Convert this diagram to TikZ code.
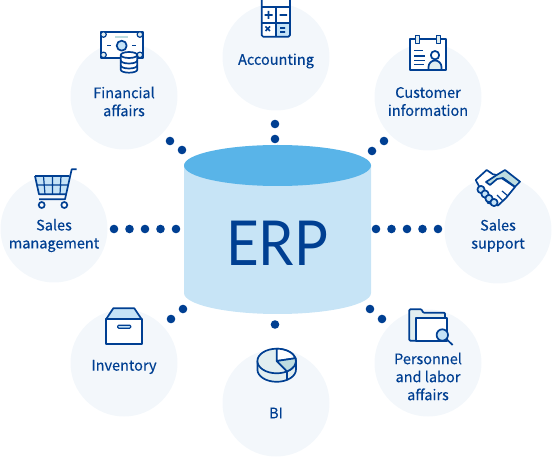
\documentclass[tikz,border=0pt]{standalone}
\usepackage{fontspec}
\setmainfont{Noto Sans CJK KR}[FakeBold=0.25]
\newfontfamily\erpfont{Lato}
\usetikzlibrary{calc,positioning}
\definecolor{erpblue}{HTML}{003F92}
\definecolor{drumside}{HTML}{C7E4F6}
\definecolor{drumtop}{HTML}{59B4E8}
\definecolor{disc}{HTML}{F3F7FB}
\definecolor{iconsky}{HTML}{C5E3F7}
\definecolor{iconmist}{HTML}{E1EEF0}
\definecolor{icontint}{HTML}{BEDDE0}
\tikzset{
  topic/.style={circle,fill=disc,minimum size=107pt,inner sep=0pt},
  tag/.style={text=erpblue,align=center,inner sep=0pt,font=\fontsize{14.5}{18}\selectfont},
  dots/.style={draw=erpblue,line width=8.6pt,line cap=round,dash pattern=on 0pt off #1},
  icon/.style={draw=erpblue,line width=1.7pt,line join=round}
}
\begin{document}
\begin{tikzpicture}[x=1pt,y=-1pt]
\useasboundingbox (0,0) rectangle (552,457);
% topics
\node[topic] (financial) at (124,96) {};
\node[topic] (accounting) at (276,57) {};
\node[topic] (customer) at (428,97) {};
\node[topic] (salesmgmt) at (54,229) {};
\node[topic] (support) at (498,230) {};
\node[topic] (inventory) at (124,363) {};
\node[topic] (bi) at (276,403) {};
\node[topic] (personnel) at (428,363) {};
\node[tag] (financialtag) at (124,101.5) {Financial\\affairs};
\node[tag] (accountingtag) at (276,61) {Accounting};
\node[tag] (customertag) at (428,101.5) {Customer\\information};
\node[tag] (salesmgmttag) at (54,235.5) {Sales\\management};
\node[tag] (supporttag) at (498,235.5) {Sales\\support};
\node[tag] (inventorytag) at (124,367) {Inventory};
\node[tag] (bitag) at (276,413) {BI};
\node[tag] (personneltag) at (428,376.5) {Personnel\\and labor\\affairs};
% drum
\fill[drumside] (184,165) -- (184,293) arc[start angle=180,end angle=0,x radius=93.5,y radius=21] -- (371,165) -- cycle;
\fill[drumtop] (277.5,165.5) circle[x radius=93.5,y radius=20.5];
\node[text=erpblue,inner sep=0pt,xscale=0.91,font=\erpfont\fontsize{62}{62}\selectfont] (erp) at (277,243) {ERP};
% dotted links
\foreach \name/\ax/\ay/\bx/\by/\gap in {a/170/141/182/150/15,b/275/124/275/139/15,c/384/141/372/151/15.6,
    d/438/229/376/229/15.5,e/114/229/176/229/15.5,f/171/319/183/309/15.6,g/275/324.5/275/340/15.5,h/370/309/382/319/15.6}
{
    \coordinate (\name1) at (\ax,\ay);
    \coordinate (\name2) at (\bx,\by);
    \draw[dots=\gap pt] (\name1) -- (\name2);
}
% financial icon
\draw[icon,fill=white] (100.7,31.7) rectangle (142.7,57.7);
\foreach \x/\y in {103.5/34.5,139.9/34.5,103.5/54.9,139.9/54.9}
    \draw[icon,line width=1.2pt,fill=iconmist] (\x,\y) circle[radius=2.8];
\draw[icon,fill=iconsky] (121.7,45.7) circle[radius=5];
\draw[icontint,line width=2pt] (115,37) -- (128,37);
\draw[erpblue,line width=1.2pt] (107,45.7) -- (111,45.7) (132,45.7) -- (136,45.7);
\draw[icon,fill=white] (120.7,55) -- (120.7,69.7) arc[start angle=180,end angle=0,x radius=8.3,y radius=3] -- (137.3,55) arc[start angle=0,end angle=-180,x radius=8.3,y radius=3] -- cycle;
\draw[icon] (120.7,55) arc[start angle=180,end angle=0,x radius=8.3,y radius=3];
\draw[icon] (120.7,60.5) arc[start angle=180,end angle=0,x radius=8.3,y radius=3];
\draw[icon] (120.7,65.5) arc[start angle=180,end angle=0,x radius=8.3,y radius=3];
% accounting icon
\fill[white,rounded corners=1.5pt] (261.7,0) rectangle (290,36.7);
\fill[iconsky] (276,22.7) rectangle (290,36.7);
\draw[icon,rounded corners=1.5pt] (261.7,-2) rectangle (290,36.7);
\draw[icon] (261.7,7) -- (290,7) (276,7) -- (276,36.7) (261.7,22.7) -- (290,22.7);
\draw[erpblue,line width=1.7pt] (264.5,15) -- (272.5,15) (268.5,11) -- (268.5,19) (279.5,15) -- (287,15)
    (280,28) -- (285,28) (280,32) -- (285,32) (265.5,26.5) -- (270,31) (270,26.5) -- (265.5,31);
% customer icon
\draw[icon,fill=white] (410,38.7) rectangle (446,70);
\foreach \x in {417.3,438.3}
    \draw[icon,line width=1.2pt,fill=iconmist] (\x-1.8,35.7) rectangle (\x+1.8,43.5);
\draw[erpblue,line width=1.2pt] (414,50.7) -- (423,50.7) (414,56) -- (425,56) (414,60.7) -- (425,60.7) (414,64.7) -- (424,64.7);
\draw[icon,fill=iconmist] (428.5,70) -- (428.5,67) arc[start angle=180,end angle=360,x radius=6.5,y radius=6.5] -- (441.5,70) -- cycle;
\draw[icon,fill=white] (435,55.2) circle[radius=4.2];
% sales management icon
\fill[iconsky] (35,176) -- (69.3,176) -- (66,194.3) -- (39,194.3) -- cycle;
\draw[icon] (76.7,169.3) -- (71.7,169.3) -- (65,199.3) -- (39,199.3);
\draw[icon] (35,176) -- (69.3,176) (35,176) -- (39,194.3) -- (66,194.3);
\draw[icon,line width=1.2pt] (43.5,176) -- (45,194.3) (52.5,176) -- (52.5,194.3) (61,176) -- (60,194.3) (37,185) -- (68,185);
\draw[icon,fill=white] (41.7,205) circle[radius=3];
\draw[icon,fill=white] (64.3,205) circle[radius=3];
% support icon
\draw[icon,fill=white] (475.7,180) -- (486.7,170) -- (493,174.3) -- (497,175) -- (515,187) -- (506,198) -- (498,205.5) -- (488,203) -- cycle;
\draw[icon,fill=icontint] (496.7,175) -- (505,170) -- (520,181.7) -- (515,186.7) -- (503,178) -- (497,179) -- (490,185) -- (486,182) -- cycle;
\foreach \x/\y in {481/189.5,485/194,489/198.5,494/202.5}
    \draw[icon,fill=iconsky] (\x,\y) circle[radius=3.6];
\draw[icon,line width=1.2pt] (497,195) -- (503,201) (502,191) -- (508,196);
% inventory icon
\draw[icon,fill=iconsky] (106,319.3) -- (113.3,308.3) -- (134.3,308.3) -- (141.7,319.3) -- cycle;
\draw[icon,fill=white] (106,319.3) rectangle (141.7,344);
\draw[icon,line width=1.2pt,fill=iconsky,rounded corners=1pt] (117.7,325.2) rectangle (130.7,328.2);
% bi icon
\draw[icon,fill=iconmist] (257.4,361) -- (257.4,369.5) arc[start angle=180,end angle=0,x radius=19.3,y radius=12.3] -- (296,361) -- cycle;
\draw[icon,fill=iconmist] (276.7,361) circle[x radius=19.3,y radius=12.3];
\draw[icon,fill=white] (276.7,361) -- (276.7,348.7) arc[start angle=-90,end angle=-13,x radius=19.3,y radius=12.3] -- cycle;
\draw[icon,fill=icontint] (276.7,361) -- (295.5,358.2) arc[start angle=-13,end angle=58,x radius=19.3,y radius=12.3] -- cycle;
\draw[icon] (286.9,371.4) -- (286.9,379.5);
% personnel icon
\draw[icon,fill=iconmist,rounded corners=1pt] (409.3,340.7) -- (409.3,309.3) -- (421.7,309.3) -- (423,312.7) -- (445,312.7) -- (445,340.7) -- cycle;
\draw[icon,fill=white] (416,318.3) rectangle (446.7,340.7);
\draw[icon] (446.3,339) -- (452.7,345);
\draw[icon,fill=iconsky] (442.3,335) circle[radius=5.7];
\end{tikzpicture}
\end{document}
